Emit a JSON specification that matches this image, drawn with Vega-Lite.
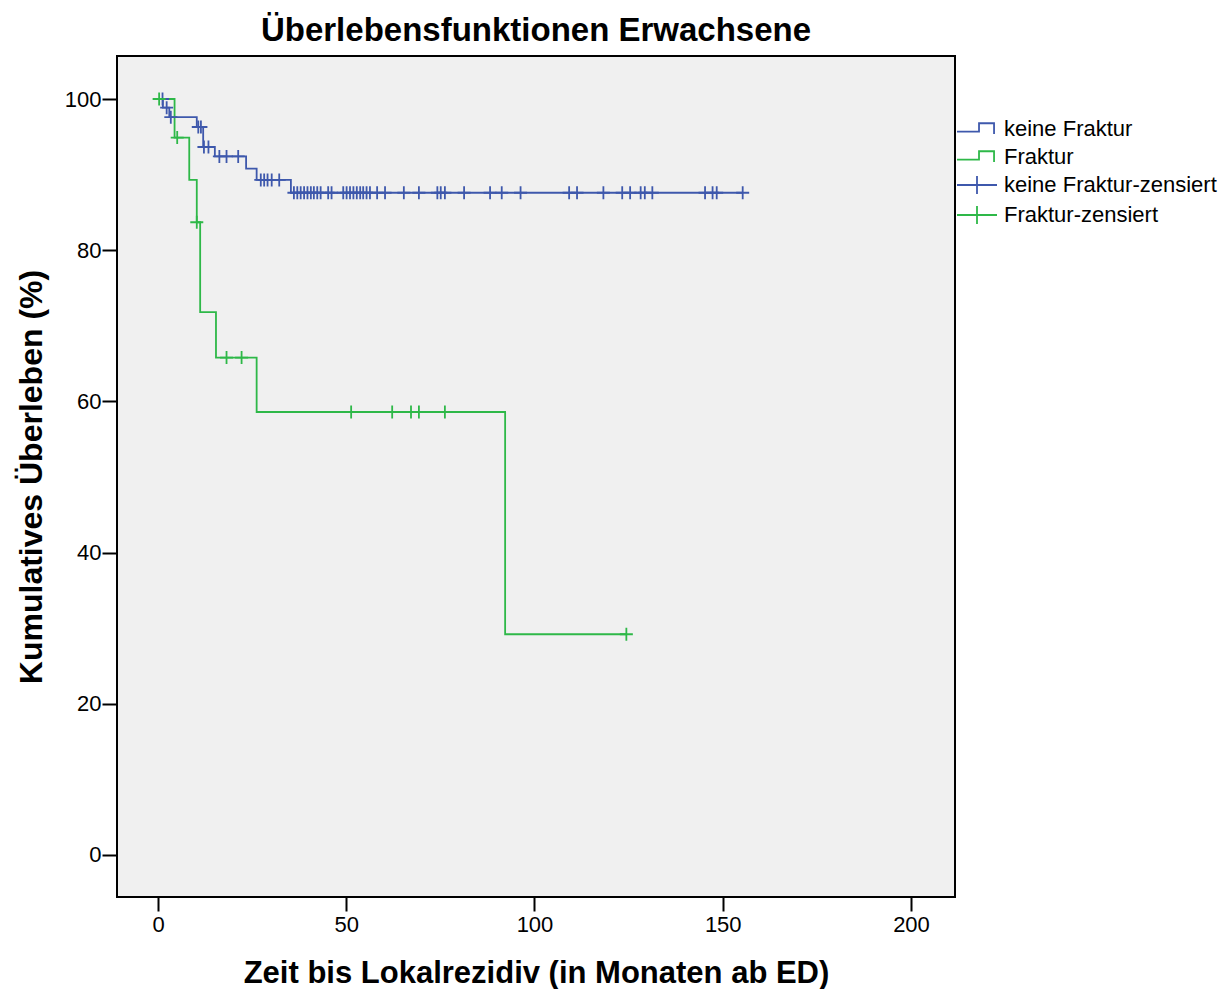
{
  "$schema": "https://vega.github.io/schema/vega-lite/v6.json",
  "autosize": "none",
  "width": 838,
  "height": 841,
  "padding": {"left": 117, "top": 56, "right": 275, "bottom": 92},
  "background": "white",
  "config": {
    "font": "Liberation Sans",
    "view": {"stroke": "black", "strokeWidth": 2, "fill": "#f0f0f0"},
    "axis": {"grid": false, "domain": false, "tickColor": "black", "tickWidth": 2, "labelColor": "black", "labelFont": "Liberation Sans", "labelFontSize": 22, "titleFont": "Liberation Sans", "titleFontWeight": "bold", "titleColor": "black"}
  },
  "title": {"text": "Überlebensfunktionen Erwachsene", "fontSize": 33, "fontWeight": "bold", "font": "Liberation Sans", "color": "black", "anchor": "middle", "frame": "group", "baseline": "alphabetic", "offset": -18},
  "datasets": {
    "curve": [
      {"t": 0, "s": 100, "grp": "keine Fraktur"},
      {"t": 1.3, "s": 98.85, "grp": "keine Fraktur"},
      {"t": 3.0, "s": 97.6, "grp": "keine Fraktur"},
      {"t": 10.3, "s": 96.3, "grp": "keine Fraktur"},
      {"t": 12.0, "s": 93.65, "grp": "keine Fraktur"},
      {"t": 15.1, "s": 92.4, "grp": "keine Fraktur"},
      {"t": 23.4, "s": 90.8, "grp": "keine Fraktur"},
      {"t": 26.2, "s": 89.3, "grp": "keine Fraktur"},
      {"t": 35.3, "s": 87.6, "grp": "keine Fraktur"},
      {"t": 155.3, "s": 87.6, "grp": "keine Fraktur"},
      {"t": 0, "s": 100, "grp": "Fraktur"},
      {"t": 4.4, "s": 94.9, "grp": "Fraktur"},
      {"t": 8.3, "s": 89.3, "grp": "Fraktur"},
      {"t": 10.3, "s": 83.7, "grp": "Fraktur"},
      {"t": 11.2, "s": 71.8, "grp": "Fraktur"},
      {"t": 15.4, "s": 65.8, "grp": "Fraktur"},
      {"t": 26.2, "s": 58.6, "grp": "Fraktur"},
      {"t": 92.2, "s": 29.2, "grp": "Fraktur"},
      {"t": 124.4, "s": 29.2, "grp": "Fraktur"}
    ],
    "censor": [
      {"t": 1.2, "s": 100, "grp": "keine Fraktur-zensiert"},
      {"t": 2.3, "s": 98.85, "grp": "keine Fraktur-zensiert"},
      {"t": 3.4, "s": 97.6, "grp": "keine Fraktur-zensiert"},
      {"t": 10.7, "s": 96.3, "grp": "keine Fraktur-zensiert"},
      {"t": 11.4, "s": 96.3, "grp": "keine Fraktur-zensiert"},
      {"t": 12.2, "s": 93.65, "grp": "keine Fraktur-zensiert"},
      {"t": 13.4, "s": 93.65, "grp": "keine Fraktur-zensiert"},
      {"t": 16.3, "s": 92.4, "grp": "keine Fraktur-zensiert"},
      {"t": 18.2, "s": 92.4, "grp": "keine Fraktur-zensiert"},
      {"t": 21.3, "s": 92.4, "grp": "keine Fraktur-zensiert"},
      {"t": 27.3, "s": 89.3, "grp": "keine Fraktur-zensiert"},
      {"t": 28.2, "s": 89.3, "grp": "keine Fraktur-zensiert"},
      {"t": 29.1, "s": 89.3, "grp": "keine Fraktur-zensiert"},
      {"t": 30.2, "s": 89.3, "grp": "keine Fraktur-zensiert"},
      {"t": 32.2, "s": 89.3, "grp": "keine Fraktur-zensiert"},
      {"t": 36.1, "s": 87.6, "grp": "keine Fraktur-zensiert"},
      {"t": 37.0, "s": 87.6, "grp": "keine Fraktur-zensiert"},
      {"t": 37.9, "s": 87.6, "grp": "keine Fraktur-zensiert"},
      {"t": 38.8, "s": 87.6, "grp": "keine Fraktur-zensiert"},
      {"t": 39.7, "s": 87.6, "grp": "keine Fraktur-zensiert"},
      {"t": 40.6, "s": 87.6, "grp": "keine Fraktur-zensiert"},
      {"t": 41.4, "s": 87.6, "grp": "keine Fraktur-zensiert"},
      {"t": 42.3, "s": 87.6, "grp": "keine Fraktur-zensiert"},
      {"t": 43.2, "s": 87.6, "grp": "keine Fraktur-zensiert"},
      {"t": 45.2, "s": 87.6, "grp": "keine Fraktur-zensiert"},
      {"t": 46.1, "s": 87.6, "grp": "keine Fraktur-zensiert"},
      {"t": 49.2, "s": 87.6, "grp": "keine Fraktur-zensiert"},
      {"t": 50.1, "s": 87.6, "grp": "keine Fraktur-zensiert"},
      {"t": 51.0, "s": 87.6, "grp": "keine Fraktur-zensiert"},
      {"t": 51.9, "s": 87.6, "grp": "keine Fraktur-zensiert"},
      {"t": 52.8, "s": 87.6, "grp": "keine Fraktur-zensiert"},
      {"t": 53.7, "s": 87.6, "grp": "keine Fraktur-zensiert"},
      {"t": 54.5, "s": 87.6, "grp": "keine Fraktur-zensiert"},
      {"t": 55.4, "s": 87.6, "grp": "keine Fraktur-zensiert"},
      {"t": 56.3, "s": 87.6, "grp": "keine Fraktur-zensiert"},
      {"t": 58.2, "s": 87.6, "grp": "keine Fraktur-zensiert"},
      {"t": 60.3, "s": 87.6, "grp": "keine Fraktur-zensiert"},
      {"t": 65.3, "s": 87.6, "grp": "keine Fraktur-zensiert"},
      {"t": 69.3, "s": 87.6, "grp": "keine Fraktur-zensiert"},
      {"t": 74.2, "s": 87.6, "grp": "keine Fraktur-zensiert"},
      {"t": 75.1, "s": 87.6, "grp": "keine Fraktur-zensiert"},
      {"t": 76.2, "s": 87.6, "grp": "keine Fraktur-zensiert"},
      {"t": 81.3, "s": 87.6, "grp": "keine Fraktur-zensiert"},
      {"t": 88.2, "s": 87.6, "grp": "keine Fraktur-zensiert"},
      {"t": 91.3, "s": 87.6, "grp": "keine Fraktur-zensiert"},
      {"t": 96.3, "s": 87.6, "grp": "keine Fraktur-zensiert"},
      {"t": 109.2, "s": 87.6, "grp": "keine Fraktur-zensiert"},
      {"t": 111.3, "s": 87.6, "grp": "keine Fraktur-zensiert"},
      {"t": 118.3, "s": 87.6, "grp": "keine Fraktur-zensiert"},
      {"t": 123.3, "s": 87.6, "grp": "keine Fraktur-zensiert"},
      {"t": 125.4, "s": 87.6, "grp": "keine Fraktur-zensiert"},
      {"t": 128.2, "s": 87.6, "grp": "keine Fraktur-zensiert"},
      {"t": 129.3, "s": 87.6, "grp": "keine Fraktur-zensiert"},
      {"t": 131.3, "s": 87.6, "grp": "keine Fraktur-zensiert"},
      {"t": 145.3, "s": 87.6, "grp": "keine Fraktur-zensiert"},
      {"t": 147.3, "s": 87.6, "grp": "keine Fraktur-zensiert"},
      {"t": 148.4, "s": 87.6, "grp": "keine Fraktur-zensiert"},
      {"t": 155.3, "s": 87.6, "grp": "keine Fraktur-zensiert"},
      {"t": 0.3, "s": 100, "grp": "Fraktur-zensiert"},
      {"t": 5.1, "s": 94.9, "grp": "Fraktur-zensiert"},
      {"t": 10.3, "s": 83.7, "grp": "Fraktur-zensiert"},
      {"t": 18.2, "s": 65.8, "grp": "Fraktur-zensiert"},
      {"t": 22.2, "s": 65.8, "grp": "Fraktur-zensiert"},
      {"t": 51.3, "s": 58.6, "grp": "Fraktur-zensiert"},
      {"t": 62.2, "s": 58.6, "grp": "Fraktur-zensiert"},
      {"t": 67.2, "s": 58.6, "grp": "Fraktur-zensiert"},
      {"t": 69.3, "s": 58.6, "grp": "Fraktur-zensiert"},
      {"t": 76.2, "s": 58.6, "grp": "Fraktur-zensiert"},
      {"t": 124.4, "s": 29.2, "grp": "Fraktur-zensiert"}
    ]
  },
  "encoding": {
    "x": {"field": "t", "type": "quantitative", "title": "Zeit bis Lokalrezidiv (in Monaten ab ED)", "scale": {"domain": [-10.89, 211.69], "nice": false, "zero": false}, "axis": {"values": [0, 50, 100, 150, 200], "tickSize": 14, "labelPadding": 3, "titlePadding": 23, "titleFontSize": 31}},
    "y": {"field": "s", "type": "quantitative", "title": "Kumulatives Überleben (%)", "scale": {"domain": [-5.56, 105.69], "nice": false, "zero": false}, "axis": {"values": [0, 20, 40, 60, 80, 100], "tickSize": 15, "labelPadding": 1, "titlePadding": 16, "titleFontSize": 32}},
    "color": {"field": "grp", "type": "nominal", "scale": {"domain": ["keine Fraktur", "Fraktur", "keine Fraktur-zensiert", "Fraktur-zensiert"], "range": ["#3E58AC", "#2EB848", "#3E58AC", "#2EB848"]},
      "legend": {"title": null, "orient": "none", "legendX": 843.5, "legendY": 56.5, "padding": 0, "symbolSize": 961, "symbolStrokeWidth": 1.8, "labelFontSize": 22, "labelFont": "Liberation Sans", "labelColor": "black", "labelOffset": 10.5, "labelLimit": 300, "rowPadding": -0.5,
        "encode": {"symbols": {"update": {"shape": {"signal": "indexof(datum.value, 'zensiert') >= 0 ? 'M-1.29,0H1.29M0,-0.58V0.58' : 'M-1.29,0.17H0.13V-0.37H1.1V0.32'"}, "fill": {"value": "transparent"}}}}}}
  },
  "layer": [
    {"data": {"name": "curve"}, "mark": {"type": "line", "interpolate": "step-after", "strokeWidth": 1.8}},
    {"data": {"name": "censor"}, "mark": {"type": "point", "shape": "M-1,0H1M0,-1V1", "size": 169, "filled": false, "strokeWidth": 1.8, "opacity": 1}}
  ]
}
